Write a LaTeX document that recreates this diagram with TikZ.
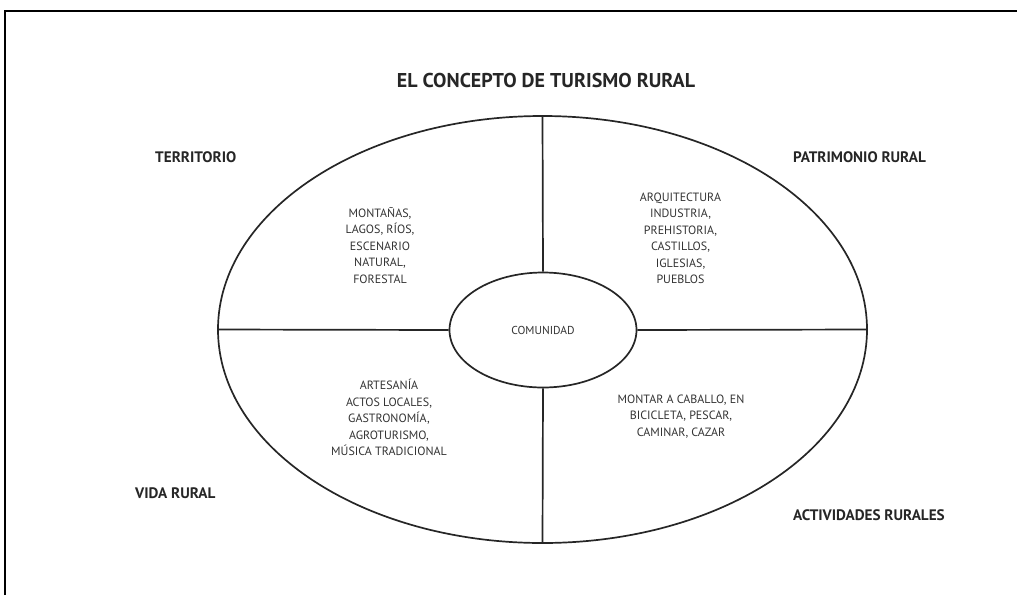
\documentclass[tikz,border=0pt]{standalone}
\usepackage{fontspec}
\setmainfont{PT Sans}
\usetikzlibrary{shapes.geometric}
\begin{document}
\begin{tikzpicture}[x=1pt,y=-1pt,
  ink/.style={draw=black!85, line width=1.7pt},
  heading/.style={font=\fontsize{15.2}{18}\selectfont\bfseries, text=black!85, inner sep=0pt},
  item/.style={font=\fontsize{12}{16.5}\selectfont, text=black!80, align=center, inner sep=0pt},
]
\useasboundingbox (0,0) rectangle (1017,595);
% frame edges
\draw[line width=2pt] (5,595) -- (5,11) -- (1017,11);

% outer ellipse, its quadrant dividers and the inner ellipse
\node[ink, ellipse, minimum width=649pt, minimum height=427pt, inner sep=0pt] (outer) at (542.5,329.5) {};
\node[ink, ellipse, minimum width=187pt, minimum height=115pt, inner sep=0pt, font=\fontsize{11.5}{12}\selectfont, text=black!80] (inner) at (543,330) {COMUNIDAD};
\draw[ink] (outer.north) -- (inner.north);
\draw[ink] (inner.south) -- (outer.south);
\draw[ink] (outer.west) -- (inner.west);
\draw[ink] (inner.east) -- (outer.east);

% title and quadrant headings
\node[heading, font=\fontsize{20}{24}\selectfont\bfseries] (title) at (546,80) {EL CONCEPTO DE TURISMO RURAL};
\node[heading, anchor=west] (terr) at (155,157) {TERRITORIO};
\node[heading, anchor=west] (patr) at (793,157) {PATRIMONIO RURAL};
\node[heading, anchor=west] (vida) at (135,493) {VIDA RURAL};
\node[heading, anchor=west] (activ) at (793,515) {ACTIVIDADES RURALES};

% quadrant contents
\node[item] (terrlist) at (380,245.5) {MONTAÑAS,\\LAGOS, RÍOS,\\ESCENARIO\\NATURAL,\\FORESTAL};
\node[item] (patrlist) at (680.5,238.5) {ARQUITECTURA\\INDUSTRIA,\\PREHISTORIA,\\CASTILLOS,\\IGLESIAS,\\PUEBLOS};
\node[item] (vidalist) at (389,417.5) {ARTESANÍA\\ACTOS LOCALES,\\GASTRONOMÍA,\\AGROTURISMO,\\MÚSICA TRADICIONAL};
\node[item] (activlist) at (681,416.5) {MONTAR A CABALLO, EN\\BICICLETA, PESCAR,\\CAMINAR, CAZAR};
\end{tikzpicture}
\end{document}
